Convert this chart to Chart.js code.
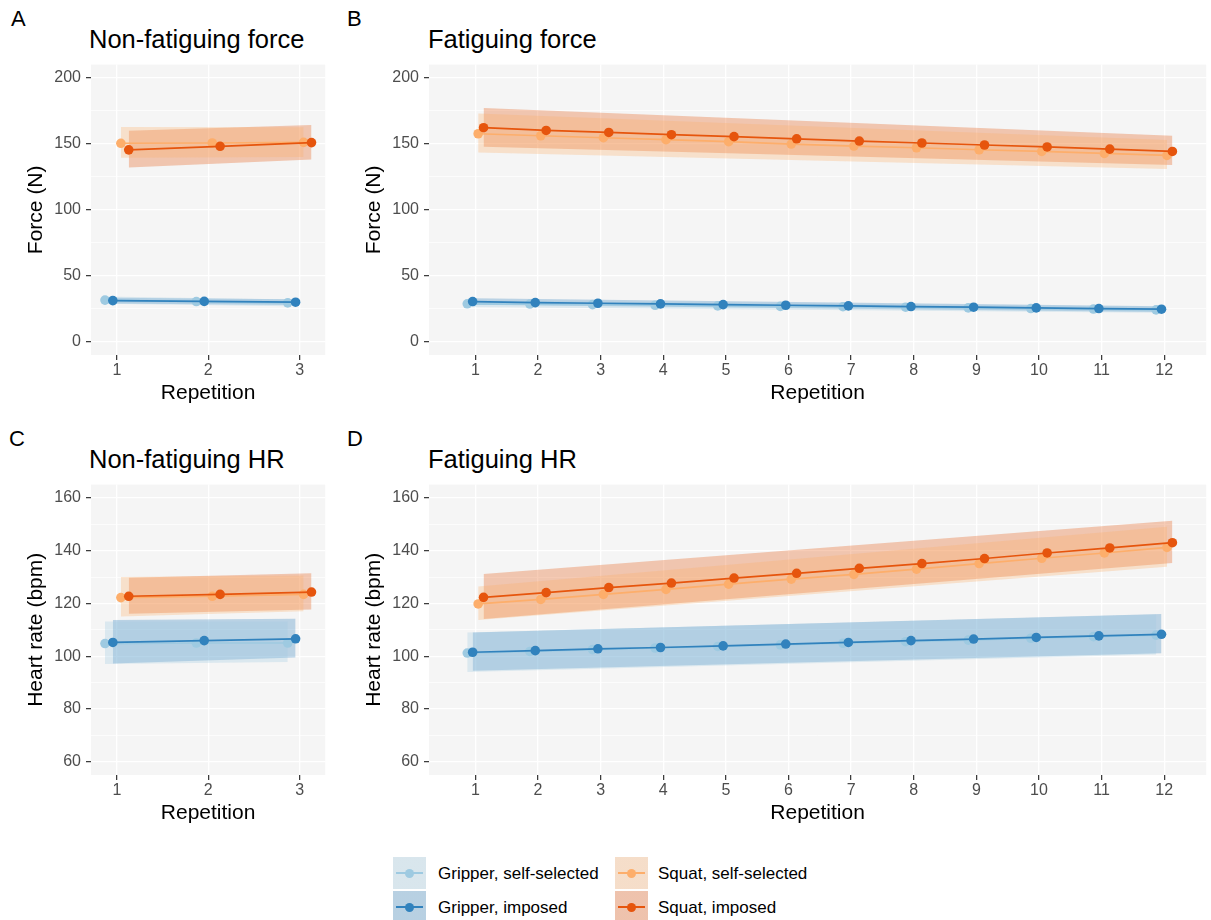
<!DOCTYPE html>
<html><head><meta charset="utf-8">
<script src="https://cdn.jsdelivr.net/npm/chart.js@4.4.0/dist/chart.umd.min.js"></script>
<style>
body{margin:0;background:#fff;font-family:"Liberation Sans",Arial,Helvetica,sans-serif;}
#wrap{position:relative;width:1211px;height:920px;overflow:hidden;background:#fff;}
canvas{position:absolute;}
.t{position:absolute;white-space:nowrap;line-height:1;color:#000;}
.key{position:absolute;}
.kl{position:absolute;left:3px;right:3px;top:15.2px;height:1.6px;}
.kd{position:absolute;top:11.5px;width:9px;height:9px;border-radius:50%;}
</style></head><body><div id="wrap">
<div class="t" style="left:11px;top:8.4px;font-size:22px;">A</div>
<div class="t" style="left:89px;top:26.7px;font-size:25.5px;">Non-fatiguing force</div>
<div class="t" style="left:347px;top:8.4px;font-size:22px;">B</div>
<div class="t" style="left:428px;top:26.7px;font-size:25.5px;">Fatiguing force</div>
<div class="t" style="left:9px;top:428.4px;font-size:22px;">C</div>
<div class="t" style="left:89px;top:446.7px;font-size:25.5px;">Non-fatiguing HR</div>
<div class="t" style="left:347px;top:428.4px;font-size:22px;">D</div>
<div class="t" style="left:428px;top:446.7px;font-size:25.5px;">Fatiguing HR</div>
<canvas id="cA" width="330" height="365" style="left:0;top:50px;width:330px;height:365px"></canvas>
<canvas id="cB" width="873" height="365" style="left:338px;top:50px;width:873px;height:365px"></canvas>
<canvas id="cC" width="330" height="365" style="left:0;top:470px;width:330px;height:365px"></canvas>
<canvas id="cD" width="873" height="365" style="left:338px;top:470px;width:873px;height:365px"></canvas>
<div id="legend"></div>
</div>
<script>
// ---------- data ----------
const reps3 = [1, 2, 3];
const reps12 = [1, 2, 3, 4, 5, 6, 7, 8, 9, 10, 11, 12];
const seriesNames = ['Gripper, self-selected', 'Gripper, imposed', 'Squat, self-selected', 'Squat, imposed'];

// A: non-fatiguing force
const forceNF_gripperSelf    = [31.6, 30.5, 29.5];
const forceNF_gripperImposed = [31.2, 30.6, 30.0];
const forceNF_squatSelf      = [150.4, 150.6, 151.1];
const forceNF_squatImposed   = [145.4, 148.1, 150.9];
// ribbons: [first repetition, last repetition]
const forceNF_gripperSelf_lo = [28.8, 27.0],    forceNF_gripperSelf_hi = [34.4, 32.0];
const forceNF_gripperImposed_lo = [29.0, 27.8], forceNF_gripperImposed_hi = [33.4, 32.2];
const forceNF_squatSelf_lo = [139.5, 140.0],    forceNF_squatSelf_hi = [162.7, 162.5];
const forceNF_squatImposed_lo = [132.1, 138.2], forceNF_squatImposed_hi = [159.9, 164.2];

// B: fatiguing force
const forceF_gripperSelf    = [28.8, 28.6, 28.2, 27.7, 27.2, 26.8, 26.6, 26.2, 25.7, 25.2, 24.8, 24.2];
const forceF_gripperImposed = [30.5, 29.7, 29.2, 28.7, 28.2, 27.7, 27.2, 26.7, 26.2, 25.7, 25.2, 24.7];
const forceF_squatSelf      = [157.6, 156.1, 154.6, 153.1, 151.6, 149.8, 148.3, 147.0, 145.5, 144.2, 142.7, 141.2];
const forceF_squatImposed   = [162.2, 160.1, 158.6, 156.9, 155.4, 153.8, 152.1, 150.6, 149.1, 147.6, 146.0, 144.2];
const forceF_gripperSelf_lo = [26.3, 22.0],    forceF_gripperSelf_hi = [31.3, 26.5];
const forceF_gripperImposed_lo = [28.0, 22.5], forceF_gripperImposed_hi = [33.0, 27.0];
const forceF_squatSelf_lo = [143.5, 130.9],    forceF_squatSelf_hi = [173.0, 152.9];
const forceF_squatImposed_lo = [147.8, 134.0], forceF_squatImposed_hi = [177.1, 156.1];

// C: non-fatiguing HR
const hrNF_gripperSelf    = [104.8, 105.0, 105.0];
const hrNF_gripperImposed = [105.2, 105.9, 106.6];
const hrNF_squatSelf      = [122.2, 122.7, 123.4];
const hrNF_squatImposed   = [122.7, 123.4, 124.3];
const hrNF_gripperSelf_lo = [97.0, 97.8],     hrNF_gripperSelf_hi = [113.1, 113.1];
const hrNF_gripperImposed_lo = [97.2, 99.5],  hrNF_gripperImposed_hi = [113.7, 114.2];
const hrNF_squatSelf_lo = [115.0, 117.0],     hrNF_squatSelf_hi = [130.0, 130.6];
const hrNF_squatImposed_lo = [116.1, 117.7],  hrNF_squatImposed_hi = [129.7, 131.4];

// D: fatiguing HR
const hrF_gripperSelf    = [101.2, 101.8, 102.5, 103.1, 103.7, 104.3, 104.9, 105.5, 106.1, 106.8, 107.4, 108.0];
const hrF_gripperImposed = [101.5, 102.1, 102.8, 103.3, 103.9, 104.6, 105.2, 105.9, 106.5, 107.1, 107.7, 108.3];
const hrF_squatSelf      = [119.8, 121.5, 123.4, 125.3, 127.3, 129.2, 131.0, 133.0, 135.1, 137.1, 139.1, 141.2];
const hrF_squatImposed   = [122.3, 124.1, 126.0, 127.7, 129.6, 131.4, 133.3, 135.1, 137.0, 139.1, 141.0, 143.0];
const hrF_gripperSelf_lo = [94.0, 100.6],    hrF_gripperSelf_hi = [109.0, 115.8];
const hrF_gripperImposed_lo = [94.5, 101.1], hrF_gripperImposed_hi = [109.0, 116.0];
const hrF_squatSelf_lo = [113.7, 133.9],     hrF_squatSelf_hi = [126.4, 149.0];
const hrF_squatImposed_lo = [114.1, 135.3],  hrF_squatImposed_hi = [131.1, 151.3];

// tick labels
const forceTickLabels = [0, 50, 100, 150, 200];
const hrTickLabels = [60, 80, 100, 120, 140, 160];

// ---------- styles ----------
const seriesColors = ['#9ecae1', '#3182bd', '#fdae6b', '#e6550d'];
const seriesRGB = [[158,202,225],[49,130,189],[253,174,107],[230,85,13]];
const dodge = [-0.13, -0.044, 0.044, 0.13];
const ribbonAlpha = 0.3;
const FONT = '"Liberation Sans", Arial, Helvetica, sans-serif';
Chart.defaults.font.family = FONT;

function withMinor(majors) {
  const out = [];
  majors.forEach((v, i) => {
    out.push({ value: v, major: true });
    if (i < majors.length - 1) out.push({ value: (v + majors[i + 1]) / 2, major: false });
  });
  return out;
}

const bgPlugin = {
  id: 'panelBg',
  beforeDraw(chart) {
    const { ctx, chartArea: a } = chart;
    ctx.save();
    ctx.fillStyle = '#f5f5f5';
    ctx.fillRect(a.left, a.top, a.right - a.left, a.bottom - a.top);
    ctx.restore();
  }
};

function makePanel(id, reps, series, yMin, yMax, yMajors, yTitle, xMin, xMax) {
  const datasets = [];
  series.forEach((s, i) => {
    const x0 = reps[0] + dodge[i], x1 = reps[reps.length - 1] + dodge[i];
    const c = seriesRGB[i];
    datasets.push({ data: [{ x: x0, y: s.lo[0] }, { x: x1, y: s.lo[1] }],
      borderColor: 'rgba(0,0,0,0)', borderWidth: 1, pointRadius: 0, fill: false, order: 10 });
    datasets.push({ data: [{ x: x0, y: s.hi[0] }, { x: x1, y: s.hi[1] }],
      borderColor: 'rgba(0,0,0,0)', borderWidth: 1, pointRadius: 0, fill: '-1', order: 10,
      backgroundColor: `rgba(${c[0]},${c[1]},${c[2]},${ribbonAlpha})` });
  });
  series.forEach((s, i) => {
    datasets.push({
      data: reps.map((r, k) => ({ x: r + dodge[i], y: s.vals[k] })),
      borderColor: seriesColors[i], backgroundColor: seriesColors[i],
      pointBackgroundColor: seriesColors[i], pointBorderWidth: 0, pointRadius: 4.8,
      borderWidth: 1.7, fill: false, order: 4 - i, tension: 0
    });
  });
  const yTicks = withMinor(yMajors);
  new Chart(document.getElementById(id), {
    type: 'line',
    data: { datasets },
    plugins: [bgPlugin],
    options: {
      responsive: false, animation: false, devicePixelRatio: 1,
      layout: { padding: { top: 14, right: id === 'cA' || id === 'cC' ? 4 : 0, left: 0, bottom: 0 } },
      plugins: { legend: { display: false }, tooltip: { enabled: false } },
      scales: {
        x: {
          type: 'linear', min: xMin, max: xMax,
          afterBuildTicks: sc => { sc.ticks = reps.map(v => ({ value: v })); },
          afterFit: sc => { sc.height = 60; },
          border: { display: false },
          grid: { color: '#ffffff', lineWidth: 1.3, tickColor: '#333333', tickLength: 5, tickWidth: 1.2 },
          ticks: { color: '#4d4d4d', font: { size: 16 }, padding: 1, maxRotation: 0, autoSkip: false,
                   callback: v => String(v) },
          title: { display: true, text: 'Repetition', color: '#000', font: { size: 21 },
                   padding: { top: 0, bottom: 9 } }
        },
        y: {
          type: 'linear', min: yMin, max: yMax,
          afterBuildTicks: sc => { sc.ticks = yTicks.map(t => ({ value: t.value, major: t.major })); },
          afterFit: sc => { sc.width = 91; },
          border: { display: false },
          grid: {
            color: '#ffffff',
            lineWidth: ctx => (ctx.tick && yMajors.includes(ctx.tick.value)) ? 1.3 : 0.7,
            tickColor: ctx => (ctx.tick && yMajors.includes(ctx.tick.value)) ? '#333333' : 'rgba(0,0,0,0)',
            tickLength: 5, tickWidth: 1.2
          },
          ticks: { color: '#4d4d4d', font: { size: 16 }, padding: 5, autoSkip: false,
                   callback: v => yMajors.includes(v) ? String(v) : '' },
          title: { display: true, text: yTitle, color: '#000', font: { size: 21 },
                   padding: { top: 24, bottom: 0 } }
        }
      }
    }
  });
}

makePanel('cA', reps3, [
  { vals: forceNF_gripperSelf, lo: forceNF_gripperSelf_lo, hi: forceNF_gripperSelf_hi },
  { vals: forceNF_gripperImposed, lo: forceNF_gripperImposed_lo, hi: forceNF_gripperImposed_hi },
  { vals: forceNF_squatSelf, lo: forceNF_squatSelf_lo, hi: forceNF_squatSelf_hi },
  { vals: forceNF_squatImposed, lo: forceNF_squatImposed_lo, hi: forceNF_squatImposed_hi }
], -10, 210, forceTickLabels, 'Force (N)', 0.717, 3.28);

makePanel('cB', reps12, [
  { vals: forceF_gripperSelf, lo: forceF_gripperSelf_lo, hi: forceF_gripperSelf_hi },
  { vals: forceF_gripperImposed, lo: forceF_gripperImposed_lo, hi: forceF_gripperImposed_hi },
  { vals: forceF_squatSelf, lo: forceF_squatSelf_lo, hi: forceF_squatSelf_hi },
  { vals: forceF_squatImposed, lo: forceF_squatImposed_lo, hi: forceF_squatImposed_hi }
], -10, 210, forceTickLabels, 'Force (N)', 0.259, 12.67);

makePanel('cC', reps3, [
  { vals: hrNF_gripperSelf, lo: hrNF_gripperSelf_lo, hi: hrNF_gripperSelf_hi },
  { vals: hrNF_gripperImposed, lo: hrNF_gripperImposed_lo, hi: hrNF_gripperImposed_hi },
  { vals: hrNF_squatSelf, lo: hrNF_squatSelf_lo, hi: hrNF_squatSelf_hi },
  { vals: hrNF_squatImposed, lo: hrNF_squatImposed_lo, hi: hrNF_squatImposed_hi }
], 55, 165, hrTickLabels, 'Heart rate (bpm)', 0.717, 3.28);

makePanel('cD', reps12, [
  { vals: hrF_gripperSelf, lo: hrF_gripperSelf_lo, hi: hrF_gripperSelf_hi },
  { vals: hrF_gripperImposed, lo: hrF_gripperImposed_lo, hi: hrF_gripperImposed_hi },
  { vals: hrF_squatSelf, lo: hrF_squatSelf_lo, hi: hrF_squatSelf_hi },
  { vals: hrF_squatImposed, lo: hrF_squatImposed_lo, hi: hrF_squatImposed_hi }
], 55, 165, hrTickLabels, 'Heart rate (bpm)', 0.259, 12.67);

// ---------- legend ----------
(function () {
  const lg = document.getElementById('legend');
  const pos = [
    { kx: 393, ky: 857, tx: 438 }, { kx: 393, ky: 891, tx: 438 },
    { kx: 615, ky: 857, tx: 658 }, { kx: 615, ky: 891, tx: 658 }
  ];
  seriesNames.forEach((name, i) => {
    const c = seriesRGB[i], p = pos[i];
    const key = document.createElement('div');
    key.className = 'key';
    key.style.cssText = `left:${p.kx}px;top:${p.ky}px;width:33px;height:32px;` +
      `background:linear-gradient(rgba(${c[0]},${c[1]},${c[2]},${ribbonAlpha}),rgba(${c[0]},${c[1]},${c[2]},${ribbonAlpha})),#f2f2f2;`;
    key.innerHTML = `<div class="kl" style="background:${seriesColors[i]}"></div>` +
      `<div class="kd" style="left:12px;background:${seriesColors[i]}"></div>`;
    lg.appendChild(key);
    const t = document.createElement('div');
    t.className = 't';
    t.style.cssText = `left:${p.tx}px;top:${p.ky + 7.7}px;font-size:17px;`;
    t.textContent = name;
    lg.appendChild(t);
  });
})();
</script>
</body></html>
